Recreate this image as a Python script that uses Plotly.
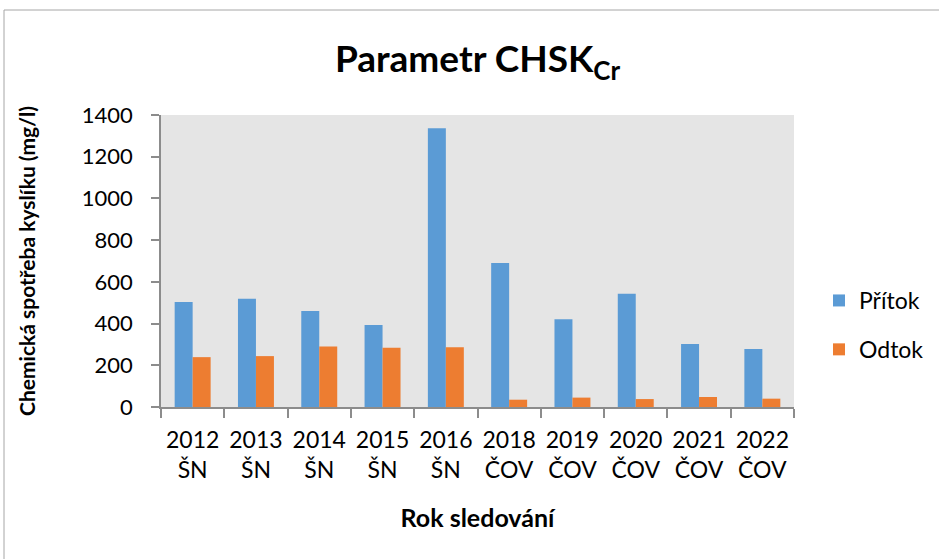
import plotly.graph_objects as go

years = ["2012", "2013", "2014", "2015", "2016", "2018", "2019", "2020", "2021", "2022"]
sites = ["ŠN", "ŠN", "ŠN", "ŠN", "ŠN", "ČOV", "ČOV", "ČOV", "ČOV", "ČOV"]
pritok = [503, 519, 460, 393, 1336, 691, 421, 543, 302, 278]
odtok = [239, 244, 290, 284, 287, 35, 45, 38, 48, 40]

categories = [f"{y}<br>{s}" for y, s in zip(years, sites)]

W, H = 939, 559
L, R, T, B = 161, 794, 115, 407
pw, ph = R - L, B - T

def px_x(p):
    return (p - L) / pw

def px_y(p):
    return (B - p) / ph

FONT = "Lato"
AXIS_COLOR = "#8c8c8c"

fig = go.Figure()
fig.add_trace(go.Bar(name="Přítok", x=categories, y=pritok, marker_color="#5b9bd5",
                     marker_line_width=0, legendgroup="a"))
fig.add_trace(go.Bar(name="Odtok", x=categories, y=odtok, marker_color="#ed7d31",
                     marker_line_width=0, legendgroup="b"))

fig.update_layout(
    width=W, height=H,
    margin=dict(l=L, r=W - R, t=T, b=H - B, autoexpand=False),
    paper_bgcolor="white",
    plot_bgcolor="#e5e5e5",
    barmode="group",
    bargap=0.432,
    bargroupgap=0,
    font=dict(family=FONT, size=22, color="black"),
    title=dict(text="<b>Parametr CHSK<sub>Cr</sub></b>", x=0.5, xref="paper",
               y=1 - 59 / H, yref="container", yanchor="middle", xanchor="center",
               font=dict(family=FONT, size=37, color="black")),
    legend=dict(x=px_x(819), y=px_y(279), xanchor="left", yanchor="top",
                font=dict(family=FONT, size=23), tracegroupgap=16,
                bgcolor="rgba(0,0,0,0)"),
    showlegend=True,
    xaxis=dict(
        showline=True, linecolor=AXIS_COLOR, linewidth=1.5,
        ticks="outside", tickson="boundaries", ticklen=9, tickcolor=AXIS_COLOR,
        tickwidth=1.5, showgrid=False, ticklabelstandoff=12,
        title=dict(text="<b>Rok sledování</b>", standoff=27, font=dict(size=25)),
        tickfont=dict(size=23),
    ),
    yaxis=dict(
        range=[0, 1400], dtick=200, showline=True, linecolor=AXIS_COLOR, linewidth=1.5,
        ticks="outside", ticklen=8, tickcolor=AXIS_COLOR, tickwidth=1.5,
        showgrid=False, zeroline=False, ticklabelstandoff=14,
        title=dict(text="<b>Chemická spotřeba kyslíku (mg/l)</b>", standoff=40,
                   font=dict(size=21)),
        tickfont=dict(size=22),
    ),
)

fig.add_shape(type="rect", xref="paper", yref="paper",
              x0=px_x(4), x1=px_x(W + 10), y0=px_y(H + 10), y1=px_y(10),
              line=dict(color="#a6a6a6", width=1), fillcolor="rgba(0,0,0,0)", layer="below")

fig.write_html("out.html", config={"displayModeBar": False},
               post_script="document.body.style.margin='0px';")
